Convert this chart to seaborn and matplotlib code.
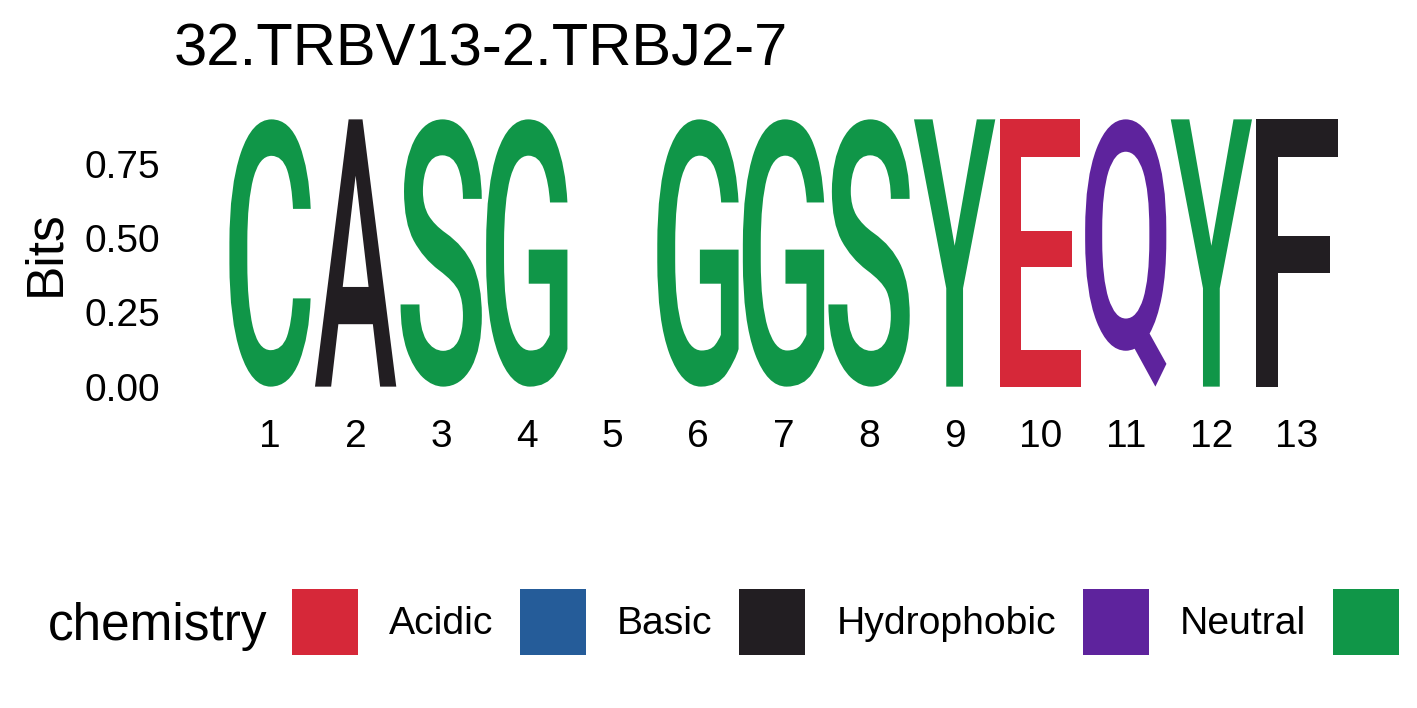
import matplotlib
matplotlib.use("Agg")
import matplotlib.pyplot as plt
from matplotlib.textpath import TextPath
from matplotlib.patches import PathPatch, Patch
from matplotlib.font_manager import FontProperties
from matplotlib.transforms import Affine2D
import seaborn as sns

# ---- data ----
title = "32.TRBV13-2.TRBJ2-7"
positions = [1, 2, 3, 4, 5, 6, 7, 8, 9, 10, 11, 12, 13]
letters = ["C", "A", "S", "G", "", "G", "G", "S", "Y", "E", "Q", "Y", "F"]
bits = [0.9, 0.9, 0.9, 0.9, 0.0, 0.9, 0.9, 0.9, 0.9, 0.9, 0.9, 0.9, 0.9]
y_ticks = [0.0, 0.25, 0.50, 0.75]
y_tick_labels = ["0.00", "0.25", "0.50", "0.75"]
chem_groups = ["Acidic", "Basic", "Hydrophobic", "Neutral", "Polar"]
chem_colors = ["#D62839", "#255C99", "#221E22", "#5E239D", "#109648"]
letter_group = {"D": "Acidic", "E": "Acidic", "H": "Basic", "K": "Basic", "R": "Basic",
                "A": "Hydrophobic", "F": "Hydrophobic", "I": "Hydrophobic", "L": "Hydrophobic",
                "M": "Hydrophobic", "P": "Hydrophobic", "V": "Hydrophobic", "W": "Hydrophobic",
                "N": "Neutral", "Q": "Neutral",
                "C": "Polar", "G": "Polar", "S": "Polar", "T": "Polar", "Y": "Polar"}

sns.set_theme(style="white")
plt.rcParams["font.family"] = ["Liberation Sans", "DejaVu Sans"]
plt.rcParams["text.color"] = "black"

fig = plt.figure(figsize=(14.17, 7.08), dpi=100)
W, H = 1417, 708
ax = fig.add_axes([174 / W, 308 / H, (1393 - 174) / W, (400 - 106) / H])

col_width = 0.95
glyph_font = FontProperties(family="Roboto", weight="medium")
color_of = dict(zip(chem_groups, chem_colors))

for pos, let, h in zip(positions, letters, bits):
    if not let or h <= 0:
        continue
    tp = TextPath((0, 0), let, size=1, prop=glyph_font)
    ext = tp.get_extents()
    tr = (Affine2D().translate(-ext.x0, -ext.y0)
          .scale(col_width / ext.width, h / ext.height)
          .translate(pos - col_width / 2, 0))
    path = tr.transform_path(tp)
    ax.add_patch(PathPatch(path, facecolor=color_of[letter_group[let]],
                           edgecolor="none", lw=0, transform=ax.transData))

xmin, xmax = 0.525, 13.475
xr = xmax - xmin
ax.set_xlim(xmin - 0.05 * xr, xmax + 0.05 * xr)
ax.set_ylim(-0.045, 0.945)
ax.set_xticks(positions)
ax.set_xticklabels([str(p) for p in positions])
ax.set_yticks(y_ticks)
ax.set_yticklabels(y_tick_labels)
ax.tick_params(axis="both", length=0, labelsize=28, colors="black")
ax.tick_params(axis="x", pad=14)
ax.tick_params(axis="y", pad=10)
ax.grid(False)
sns.despine(ax=ax, left=True, bottom=True)
ax.set_ylabel("Bits", fontsize=37, labelpad=10, color="black")
ax.set_title(title, loc="left", fontsize=43, pad=29, color="black")

handles = [Patch(facecolor=c, edgecolor="none") for c in chem_colors]
fs = 28.2
fpx = fs * 100 / 72
box = 66 / fpx
hh = (box - 0.245) / 0.65
fig.legend(handles, chem_groups, ncol=5, loc="center left",
           bbox_to_anchor=(292 / W, 1 - 622 / H), frameon=False, fontsize=fs,
           handlelength=box, handleheight=hh, handletextpad=31 / fpx,
           columnspacing=26.8 / fpx, borderpad=0, borderaxespad=0, labelcolor="black")
fig.text(48 / W, 1 - 640 / H, "chemistry", fontsize=37, va="baseline", ha="left", color="black")

fig.savefig("out.png", dpi=100)
